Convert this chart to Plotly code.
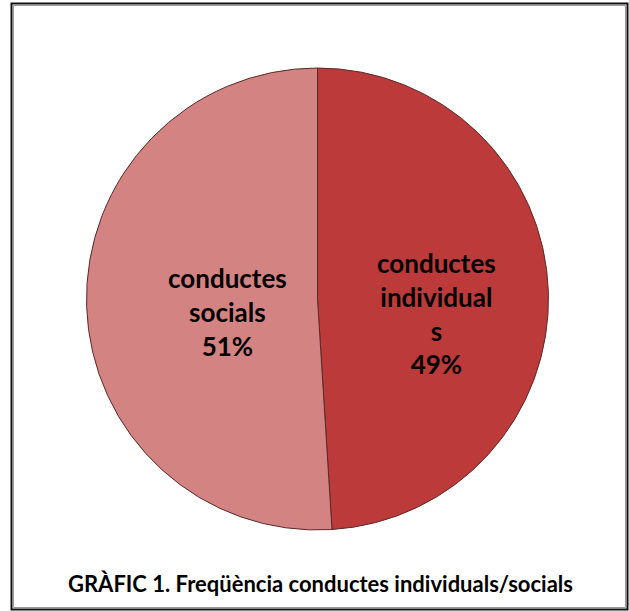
import plotly.graph_objects as go

categories = ["conductes individuals", "conductes socials"]
display_labels = ["conductes<br>individual<br>s", "conductes<br>socials"]
values = [49, 51]
colors = ["#BD3A3A", "#D48383"]
title_text = "GRÀFIC 1. Freqüència conductes individuals/socials"

W, H = 629, 611
cx, cy, r = 317.5, 299, 231

fig = go.Figure(go.Pie(
    labels=categories,
    values=values,
    textinfo="none",
    sort=False,
    direction="clockwise",
    rotation=0,
    marker=dict(colors=colors, line=dict(color="#5a2a2a", width=1)),
    hoverinfo="label+percent",
    showlegend=False,
    domain=dict(x=[(cx - r) / W, (cx + r) / W], y=[1 - (cy + r) / H, 1 - (cy - r) / H]),
))

# label positions (offsets from pie centre, px)
label_offsets = [(119, 14), (-90, 13)]
total = sum(values)
annotations = []
for lab, v, (dx, dy) in zip(display_labels, values, label_offsets):
    annotations.append(dict(
        text=f"{lab}<br>{round(100 * v / total)}%",
        xref="paper", yref="paper",
        x=(cx + dx) / W, y=1 - (cy + dy) / H,
        showarrow=False, xanchor="center", yanchor="middle",
        font=dict(family="Lato, Open Sans, sans-serif", size=26, color="black", weight="bold"),
    ))

annotations.append(dict(text=title_text, xref="paper", yref="paper",
                        x=320 / W, y=1 - 583 / H, showarrow=False,
                        xanchor="center", yanchor="middle",
                        font=dict(family="Lato, Open Sans, sans-serif", size=22,
                                  color="black", weight="bold")))

fig.update_layout(
    width=W, height=H,
    margin=dict(l=0, r=0, t=0, b=0),
    paper_bgcolor="white",
    plot_bgcolor="white",
    shapes=[
        dict(type="rect", xref="paper", yref="paper",
             x0=11.5 / W, x1=627.5 / W, y0=1 - 609.5 / H, y1=1 - 3.5 / H,
             line=dict(color="#111111", width=2)),
        dict(type="rect", xref="paper", yref="paper",
             x0=13.5 / W, x1=625.5 / W, y0=1 - 607.5 / H, y1=1 - 5.5 / H,
             line=dict(color="#9a9a9a", width=1)),
    ],
    annotations=annotations,
)

fig.write_html("out.html", config={"displayModeBar": False},
               post_script="document.body.style.margin='0';")
